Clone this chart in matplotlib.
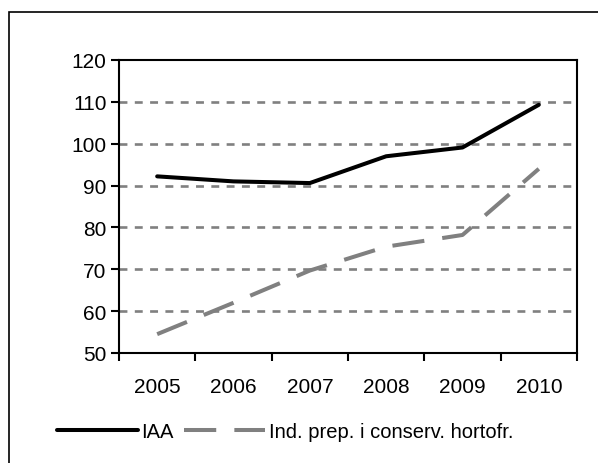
import matplotlib
matplotlib.use('Agg')
import matplotlib.pyplot as plt
from matplotlib.patches import Rectangle

# data
years = ['2005', '2006', '2007', '2008', '2009', '2010']
iaa = [92.2, 91.0, 90.6, 97.0, 99.1, 109.3]
hortofr = [54.5, 62.0, 69.7, 75.4, 78.2, 94.0]
series_names = ['IAA', 'Ind. prep. i conserv. hortofr.']

plt.rcParams['font.family'] = ['Liberation Sans', 'DejaVu Sans']
fs = 14.5

fig = plt.figure(figsize=(5.98, 4.64), dpi=100)
ax = fig.add_axes([119 / 598, 1 - 354 / 464, 458 / 598, 293 / 464])

x = list(range(len(years)))
l1, = ax.plot(x, iaa, color='black', lw=2.9, solid_capstyle='round', solid_joinstyle='round')
l2, = ax.plot(x, hortofr, color='#808080', lw=2.9, dashes=(8, 4.5), dash_capstyle='butt')

ax.set_xlim(-0.5, len(years) - 0.5)
ax.set_ylim(50, 120)
ax.set_yticks(range(50, 121, 10))
ax.set_xticks(x)
ax.set_xticklabels(years)
ax.set_xticks([i - 0.5 for i in range(len(years) + 1)], minor=True)
ax.tick_params(axis='x', which='major', length=0, pad=17, labelsize=15)
ax.tick_params(axis='x', which='minor', length=6, width=1.5, direction='out')
ax.tick_params(axis='y', length=6, width=1.5, direction='out', pad=3, labelsize=15)

for v in range(60, 120, 10):
    ax.axhline(v, color='#808080', lw=1.9, dashes=(3.0, 2.8), zorder=0.5)

for s in ax.spines.values():
    s.set_linewidth(1.5)
    s.set_color('black')

ax.legend([l1, l2], series_names, loc='center left', ncol=2,
          bbox_to_anchor=(57 / 598, 1 - 433 / 464), bbox_transform=fig.transFigure,
          frameon=False, fontsize=fs, handlelength=4.0, handletextpad=0.2,
          columnspacing=0.5, borderpad=0, borderaxespad=0)

# outer chart border
fig.patches.append(Rectangle((9 / 598, -0.1), 1.2, 1.1 - 13 / 464,
                             transform=fig.transFigure, fill=False,
                             edgecolor='black', lw=1.2))

fig.savefig('out.png', dpi=100)
